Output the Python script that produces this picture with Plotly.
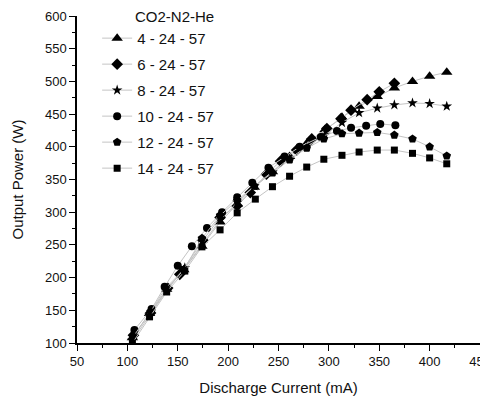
import plotly.graph_objects as go

names = ["4 - 24 - 57", "6 - 24 - 57", "8 - 24 - 57", "10 - 24 - 57", "12 - 24 - 57", "14 - 24 - 57"]
symbols = ["triangle-up", "diamond", "star", "circle", "pentagon", "square"]
legend_title = "CO2-N2-He"

x_4 = [105, 122, 139, 156, 174, 192, 209, 226, 244, 261, 278, 296, 313, 330, 348, 365, 383, 400, 417]
y_4 = [108, 145, 182, 212, 248, 285, 312, 338, 362, 385, 405, 426, 445, 462, 477, 490, 500, 508, 514]

x_6 = [106, 123, 140, 152, 175, 192, 209, 222, 238, 252, 268, 283, 298, 312, 322, 338, 350, 365]
y_6 = [112, 146, 184, 205, 257, 292, 310, 330, 358, 378, 395, 412, 428, 443, 456, 472, 484, 497]

x_8 = [105, 122, 139, 157, 175, 192, 209, 226, 244, 261, 278, 296, 313, 330, 348, 365, 383, 400, 417]
y_8 = [104, 142, 180, 215, 252, 288, 315, 340, 362, 382, 400, 418, 437, 452, 459, 464, 467, 466, 462]

x_10 = [107, 124, 137, 150, 164, 179, 194, 209, 224, 240, 256, 271, 292, 308, 322, 337, 351, 366]
y_10 = [120, 152, 186, 218, 248, 276, 300, 323, 345, 368, 385, 400, 415, 424, 429, 432, 435, 433]

x_12 = [106, 123, 138, 156, 174, 192, 209, 226, 244, 261, 278, 295, 313, 330, 348, 365, 383, 400, 417]
y_12 = [110, 148, 184, 212, 260, 295, 318, 340, 360, 380, 398, 412, 420, 421, 422, 418, 412, 400, 386]

x_14 = [105, 122, 139, 157, 174, 192, 209, 227, 244, 261, 278, 295, 313, 330, 348, 365, 383, 400, 417]
y_14 = [100, 140, 178, 210, 247, 273, 299, 320, 339, 355, 369, 381, 387, 392, 395, 395, 390, 383, 374]

xs = [x_4, x_6, x_8, x_10, x_12, x_14]
ys = [y_4, y_6, y_8, y_10, y_12, y_14]
sizes = [10, 9, 8, 8, 9, 7]

fig = go.Figure()
for n, s, x, y, sz in zip(names, symbols, xs, ys, sizes):
    fig.add_trace(go.Scatter(
        x=x, y=y, name=n, legendgroup=n, mode="lines+markers",
        line=dict(color="#c4c4c4", width=1),
        marker=dict(symbol=s, size=sz, color="black", line=dict(width=0)),
    ))

font = "Liberation Sans, Arial, sans-serif"
# page body has an 8px default margin, so the figure is sized to fit the window
fig.update_layout(
    width=480, height=393,
    margin=dict(l=69, r=8, t=8, b=58),
    paper_bgcolor="white", plot_bgcolor="white",
    font=dict(family=font, color="#111"),
    showlegend=True,
    legend=dict(
        x=0.05, y=0.982, xanchor="left", yanchor="top",
        bgcolor="rgba(0,0,0,0)", font=dict(size=15),
        traceorder="grouped", tracegroupgap=3.5,
    ),
    annotations=[dict(
        text=legend_title, x=0.243, y=1.0, xref="paper", yref="paper",
        xanchor="center", yanchor="middle", showarrow=False,
        font=dict(size=15, family=font, color="#111"),
    )],
    xaxis=dict(
        range=[50, 450], dtick=50, tick0=50, automargin=False,
        ticklabeloverflow="allow",
        showline=True, linecolor="black", linewidth=1.5,
        ticks="outside", ticklen=6, tickwidth=1.2, tickcolor="black",
        minor=dict(dtick=25, ticks="outside", ticklen=3, tickcolor="black"),
        showgrid=False, zeroline=False,
        tickfont=dict(size=13),
        title=dict(text="Discharge Current (mA)", font=dict(size=15), standoff=14),
    ),
    yaxis=dict(
        range=[100, 600], dtick=50, tick0=100, automargin=False,
        showline=True, linecolor="black", linewidth=1.5,
        ticks="outside", ticklen=6, tickwidth=1.2, tickcolor="black",
        minor=dict(dtick=25, ticks="outside", ticklen=3, tickcolor="black"),
        showgrid=False, zeroline=False,
        tickfont=dict(size=13),
        title=dict(text="Output Power (W)", font=dict(size=15), standoff=18),
    ),
)

fig.write_html("out.html")
